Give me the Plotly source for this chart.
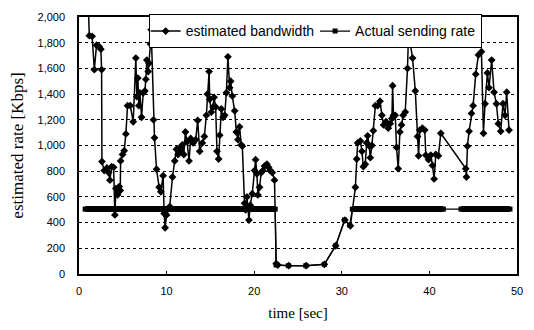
import plotly.graph_objects as go

# estimated bandwidth (time [sec], rate [Kbps])
est_t = [1.05, 1.18, 1.50, 1.75, 2.00, 2.30, 2.50, 2.58, 2.62, 2.88, 3.19, 3.38, 3.53, 3.72, 3.95,
         4.10, 4.21, 4.40, 4.59, 4.71, 4.75, 4.97, 5.16, 5.35, 5.54, 5.85, 6.19, 6.49, 6.60, 6.72,
         6.83, 6.95, 7.14, 7.33, 7.52, 7.63, 7.74, 7.90, 8.00, 8.16, 8.24, 8.50, 8.62, 8.85, 9.15,
         9.34, 9.60, 9.72, 9.83, 10.00, 10.36, 10.67, 10.93, 11.12, 11.31, 11.50, 11.62, 11.80,
         11.96, 12.15, 12.34, 12.56, 12.75, 13.02, 13.32, 13.55, 13.78, 14.08, 14.31, 14.54, 14.66,
         14.85, 14.92, 15.11, 15.30, 15.42, 15.60, 15.75, 15.94, 16.06, 16.25, 16.44, 16.63, 16.82,
         17.00, 17.20, 17.31, 17.50, 17.77, 17.96, 18.15, 18.33, 18.52, 18.64, 18.90, 19.02, 19.17,
         19.40, 19.55, 19.78, 20.04, 20.16, 20.31, 20.42, 20.61, 20.80, 20.99, 21.18, 21.45, 21.64,
         21.83, 22.06, 22.32, 22.51, 22.70, 23.95, 25.93, 28.01, 29.30, 30.35, 30.98, 31.55, 31.70,
         31.81, 32.12, 32.30, 32.46, 32.68, 32.84, 32.95, 33.14, 33.25, 33.44, 33.60, 33.83, 34.10,
         34.36, 34.58, 34.77, 35.04, 35.30, 35.53, 35.72, 35.80, 35.90, 36.10, 36.25, 36.44, 36.63,
         36.82, 37.00, 37.24, 37.50, 37.62, 38.08, 38.39, 38.65, 38.76, 38.90, 39.20, 39.47, 39.59,
         39.90, 40.16, 40.35, 40.54, 40.73, 41.03, 41.30, 44.15, 44.23, 44.34, 44.53, 44.80, 44.99,
         45.29, 45.60, 45.94, 46.17, 46.35, 46.62, 46.81, 47.11, 47.38, 47.65, 47.87, 48.14, 48.40,
         48.63, 48.82, 49.09]
est_v = [2100, 1855, 1850, 1590, 1780, 1770, 1750, 1590, 875, 805, 825, 790, 730, 835, 830,
         460, 665, 615, 680, 650, 880, 930, 960, 1090, 1310, 1310, 1185, 1680, 1380, 1525,
         1310, 1410, 1220, 1410, 1425, 1515, 1665, 1575, 1640, 1790, 1900, 1200, 1060, 815, 675,
         640, 765, 470, 360, 460, 525, 755, 880, 970, 930, 980, 955, 1005,
         930, 1105, 1030, 880, 1055, 1020, 1045, 1195, 955, 1020, 1070, 1235, 1400,
         1575, 1360, 1260, 1300, 1375, 1300, 955, 895, 1080, 1285, 1220, 1235, 1410,
         1690, 1450, 1500, 1385, 1270, 1105, 1045, 1145, 1005, 995, 550, 500, 600,
         420, 535, 625, 805, 890, 780, 615, 675, 790, 805, 840, 855, 830,
         805, 790, 730, 80, 70, 65, 65, 75, 220, 420, 375, 675, 895,
         1020, 1035, 955, 835, 855, 1020, 1075, 995, 905, 1000, 1115, 1310, 1310,
         1345, 1235, 1160, 1185, 1135, 1170, 1210, 1465, 1235, 1235, 985, 820, 1105,
         1160, 1235, 1260, 1600, 1880, 1680, 1425, 1070, 920, 1120, 1135, 1120, 925,
         890, 925, 845, 740, 930, 920, 1095, 820, 755, 995, 1110, 1250, 1310,
         1555, 1705, 1730, 1095, 1325, 1565, 1450, 1665, 1415, 1325, 1170, 1110, 1325,
         1235, 1415, 1120]

# actual sending rate
send_t = [0.7, 22.4, 22.5, 23.9, 25.9, 28.0, 29.3, 30.3, 30.9, 31.2, 41.6, 43.6, 49.2]
send_v = [505, 505, 70, 65, 65, 75, 220, 420, 380, 505, 505, 505, 505]

# densely sampled stretches of the sending rate (drawn as a heavy band)
band_t = [0.7, 22.4, None, 31.2, 41.6, None, 43.6, 49.2]
band_v = [505, 505, None, 505, 505, None, 505, 505]

x_ticks = [0, 10, 20, 30, 40, 50]
y_ticks = [0, 200, 400, 600, 800, 1000, 1200, 1400, 1600, 1800, 2000]

fig = go.Figure()
fig.add_trace(go.Scatter(x=band_t, y=band_v, mode="lines", showlegend=False,
                         line=dict(color="black", width=6), hoverinfo="skip"))
fig.add_trace(go.Scatter(x=est_t, y=est_v, mode="lines+markers", name="estimated bandwidth",
                         line=dict(color="black", width=1.5),
                         marker=dict(symbol="diamond", size=6, color="black")))
fig.add_trace(go.Scatter(x=send_t, y=send_v, mode="lines+markers", name="Actual sending rate",
                         line=dict(color="black", width=1.2),
                         marker=dict(symbol="square", size=5, color="black")))

fig.update_layout(
    width=534, height=330,
    margin=dict(l=79, r=16, t=11, b=56),
    paper_bgcolor="white", plot_bgcolor="white",
    font=dict(family="Arial, Liberation Sans, sans-serif", size=11, color="black"),
    legend=dict(orientation="h", x=0.159, y=1.01, xanchor="left", yanchor="top",
                bordercolor="black", borderwidth=1, bgcolor="white",
                font=dict(family="Arial, Liberation Sans, sans-serif", size=14),
                itemwidth=30, tracegroupgap=0, indentation=-4),
)
fig.update_xaxes(range=[0, 50], tickvals=x_ticks, showgrid=False, zeroline=False,
                 showline=True, mirror=True, linecolor="black", linewidth=1.5,
                 ticks="inside", ticklen=3, tickcolor="black", ticklabelstandoff=6,
                 title=dict(text="time [sec]", standoff=12,
                            font=dict(family="Times New Roman, Liberation Serif, serif", size=15)))
fig.update_yaxes(range=[0, 2000], tickvals=y_ticks, tickformat=",", showgrid=True,
                 gridcolor="black", griddash="dot", gridwidth=1, zeroline=False,
                 showline=True, mirror=True, linecolor="black", linewidth=1.5,
                 ticks="", ticklabelstandoff=10,
                 title=dict(text="estimated rate [Kbps]", standoff=10,
                            font=dict(family="Times New Roman, Liberation Serif, serif", size=17)))

fig.write_html("out.html")
